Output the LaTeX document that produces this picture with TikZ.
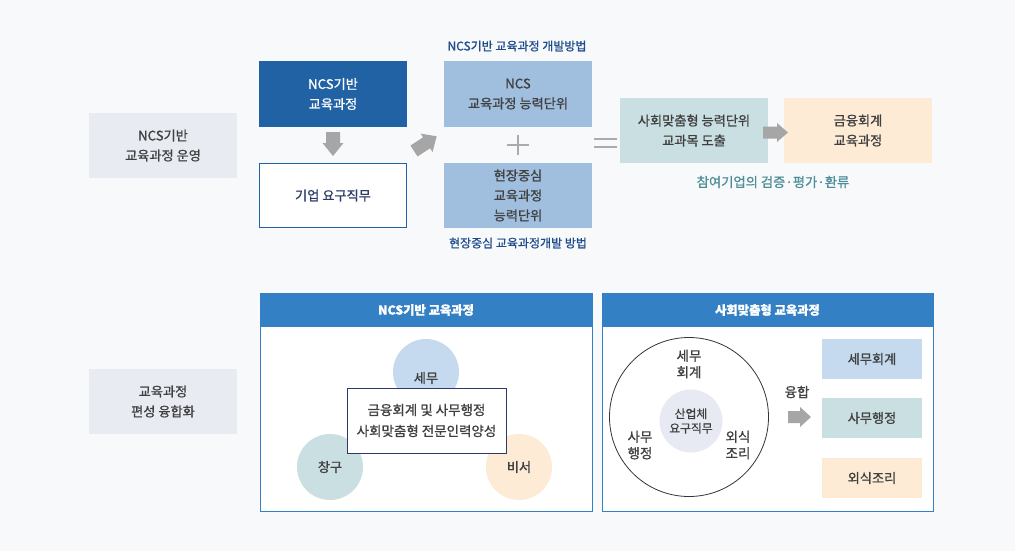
\documentclass[tikz,border=0pt]{standalone}
\usepackage{fontspec}
\setmainfont{Noto Sans CJK KR}[FakeBold=1.0]
\definecolor{bg}{HTML}{F8F9FB}
\definecolor{lblfill}{HTML}{E8EBF2}
\definecolor{darkblue}{HTML}{2062A3}
\definecolor{midblue}{HTML}{A0BEDD}
\definecolor{tealfill}{HTML}{C9DFE2}
\definecolor{peach}{HTML}{FEEBD6}
\definecolor{lightblue}{HTML}{C5DAEF}
\definecolor{panelblue}{HTML}{3380C4}
\definecolor{txt}{HTML}{404040}
\definecolor{navy}{HTML}{2C3E66}
\definecolor{labelblue}{HTML}{1E4C8A}
\definecolor{tealtxt}{HTML}{4E8E98}
\definecolor{arrowgray}{HTML}{A6A6A6}
\definecolor{signgray}{HTML}{ABABAB}
\definecolor{innerfill}{HTML}{E7EAF2}
\definecolor{navyline}{HTML}{2B3A6B}
\tikzset{
  box/.style={inner sep=0pt, align=center, text=txt, minimum width=148pt, minimum height=65pt},
  smallbox/.style={inner sep=0pt, align=center, text=txt, minimum width=100pt, minimum height=40pt},
  caption/.style={inner sep=0pt, align=center, font=\fontsize{12}{14}\selectfont},
  header/.style={inner sep=0pt, align=center, text=white, font=\bfseries\fontsize{12.3}{14}\selectfont},
  blk/.style={fill=arrowgray},
  circlab/.style={inner sep=0pt, align=center, text=txt, font=\fontsize{13.5}{16.5}\selectfont},
  panel/.style={draw=panelblue, line width=1pt, fill=white},
}
\begin{document}
\begin{tikzpicture}[x=1pt, y=-1pt, font=\fontsize{13.2}{20}\selectfont]
\fill[bg] (0,0) rectangle (1015,551);
\useasboundingbox (0,0) rectangle (1015,551);

% ---------- top row ----------
\node[box, fill=lblfill] (lbl1) at (163,145.5) {NCS기반\\교육과정 운영};
\node[box, fill=darkblue, text=white, minimum height=66pt] (ncs) at (333,94) {NCS기반\\교육과정};
\node[box, fill=white, draw=darkblue, line width=1pt, text=navy, minimum width=147pt, minimum height=64pt] (req) at (333,195.5) {기업 요구직무};

% down arrow
\fill[blk, shift={(333,132)}, rotate=-90] (0,-7) -- (11,-7) -- (11,-10.5) -- (24,0) -- (11,10.5) -- (11,7) -- (0,7) -- cycle;
% diagonal arrow
\fill[blk, shift={(414,151)}, rotate=33] (0,-6.5) -- (15,-6.5) -- (15,-11) -- (27,0) -- (15,11) -- (15,6.5) -- (0,6.5) -- cycle;

\node[caption, text=labelblue] (t1) at (517,46) {NCS기반 교육과정 개발방법};
\node[box, fill=midblue, minimum height=66pt] (ncsu) at (518,94) {NCS\\교육과정 능력단위};
\node[box, fill=midblue] (field) at (518,195.5) {현장중심\\교육과정\\능력단위};
\node[caption, text=labelblue] (t2) at (518,243) {현장중심 교육과정개발 방법};

% plus
\coordinate (plusc) at (518,145);
\draw[signgray, line width=1.6pt] ([xshift=-11pt]plusc) -- ([xshift=11pt]plusc);
\draw[signgray, line width=1.6pt] ([yshift=10pt]plusc) -- ([yshift=-10pt]plusc);
% equals
\draw[signgray, line width=2pt] (594,139) -- (617,139);
\draw[signgray, line width=2pt] (594,146.5) -- (617,146.5);

\node[box, fill=tealfill] (soc) at (694,130.5) {사회맞춤형 능력단위\\교과목 도출};
\node[box, fill=peach] (fin) at (858,130.5) {금융회계\\교육과정};
\fill[blk, shift={(763,132.5)}] (0,-6) -- (14,-6) -- (14,-9.5) -- (25,0) -- (14,9.5) -- (14,6) -- (0,6) -- cycle;
\node[caption, text=tealtxt, font=\fontsize{13.3}{14}\selectfont] (t3) at (773,182) {참여기업의 검증·평가·환류};

% ---------- bottom row ----------
\node[box, fill=lblfill] (lbl2) at (163,401.5) {교육과정\\편성 융합화};

% panel 1
\draw[panel] (260,293) rectangle (592,511);
\fill[panelblue] (260,293) rectangle (592,327);
\node[header] (h1) at (426,310) {NCS기반 교육과정};
\node[circle, fill=lightblue, minimum size=66pt, inner sep=0pt, text=txt] (semu) at (426,372) {};
\node[text=txt] at ([yshift=-6pt]semu.center) {세무};
\node[circle, fill=tealfill, minimum size=66pt, inner sep=0pt, text=txt] (chang) at (330,467) {창구};
\node[circle, fill=peach, minimum size=66pt, inner sep=0pt, text=txt] (biseo) at (519,467) {비서};
\node[box, fill=white, draw=navyline, line width=1pt, minimum width=159pt, minimum height=65pt, font=\fontsize{13.5}{21}\selectfont] (core) at (426.5,420.5) {금융회계 및 사무행정\\사회맞춤형 전문인력양성};

% panel 2
\draw[panel] (602,293) rectangle (933,511);
\fill[panelblue] (602,293) rectangle (933,327);
\node[header] (h2) at (767.5,310) {사회맞춤형 교육과정};
\node[circle, draw=black!80, line width=0.8pt, minimum size=159pt, inner sep=0pt] (big) at (689,417) {};
\node[circle, fill=innerfill, minimum size=63pt, inner sep=0pt, align=center, text=txt, font=\fontsize{11.8}{14.5}\selectfont] (inner) at (691,421) {산업체\\요구직무};
\node[circlab] (c1) at (689,364) {세무\\회계};
\node[circlab] (c2) at (640,445) {사무\\행정};
\node[circlab] (c3) at (738,445) {외식\\조리};
\node[circlab] (yh) at (797,392) {융합};
\fill[blk, shift={(788,417)}] (0,-6) -- (12,-6) -- (12,-10) -- (23,0) -- (12,10) -- (12,6) -- (0,6) -- cycle;
\node[smallbox, fill=lightblue] (b1) at (872,359) {세무회계};
\node[smallbox, fill=tealfill] (b2) at (872,418) {사무행정};
\node[smallbox, fill=peach] (b3) at (872,478) {외식조리};
\end{tikzpicture}
\end{document}
